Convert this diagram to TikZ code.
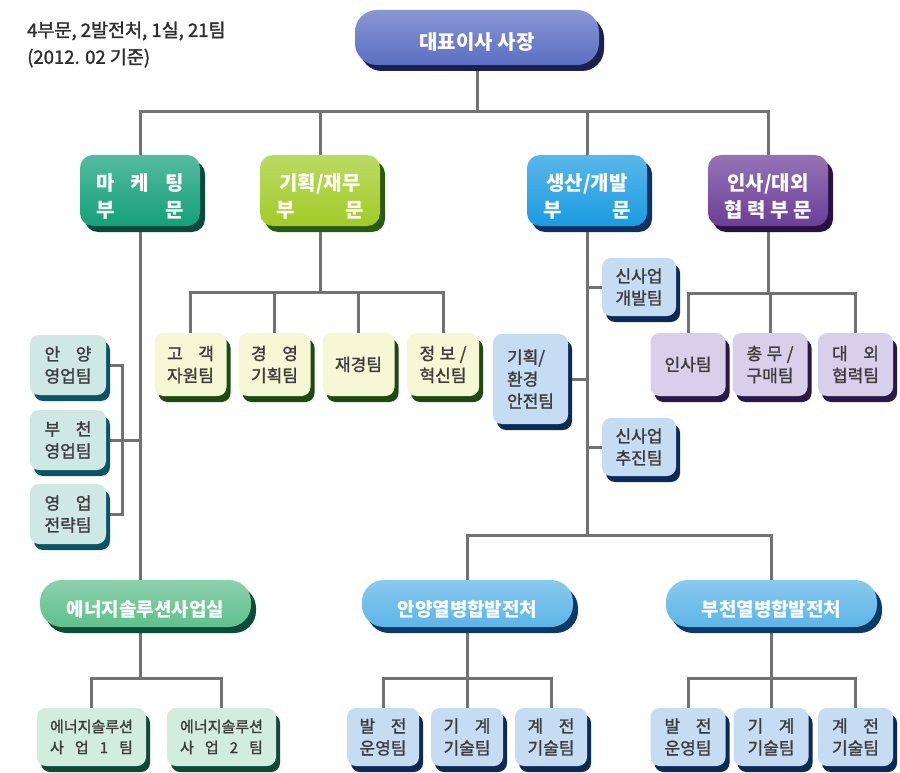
\documentclass[tikz,border=0pt]{standalone}
\usepackage{fontspec}
\setmainfont{Noto Sans CJK KR}
\newfontfamily\boxfont{Noto Sans CJK KR}[FakeBold=1.5]
\newfontfamily\teamfont{Noto Sans CJK KR}[FakeBold=1.5]
\usetikzlibrary{shadows,backgrounds}
\definecolor{ceoC}{HTML}{5B6EC2}\definecolor{ceoS}{HTML}{1A2050}
\definecolor{mkC}{HTML}{14A07A}\definecolor{mkS}{HTML}{0A4A3C}
\definecolor{finC}{HTML}{A2CB28}\definecolor{finS}{HTML}{2B5A0E}
\definecolor{prC}{HTML}{1A9BE0}\definecolor{prS}{HTML}{0A3266}
\definecolor{hrC}{HTML}{6C3E98}\definecolor{hrS}{HTML}{2A1244}
\definecolor{enC}{HTML}{5FC08D}\definecolor{enS}{HTML}{0D4C38}
\definecolor{plC}{HTML}{5CB5E7}\definecolor{plS}{HTML}{0B3A68}
\definecolor{mkT}{HTML}{CFE8E3}\definecolor{mkTS}{HTML}{0C5464}
\definecolor{fiT}{HTML}{F5F7D5}\definecolor{fiTS}{HTML}{1C4A10}
\definecolor{prT}{HTML}{C6DCF2}\definecolor{prTS}{HTML}{0C2A58}
\definecolor{hrT}{HTML}{D8D0EB}\definecolor{hrTS}{HTML}{2A1848}
\definecolor{enT}{HTML}{D2ECDF}\definecolor{enTS}{HTML}{0D4A38}
\definecolor{txtC}{HTML}{3C3C3C}
\definecolor{hdrC}{HTML}{2E2E2E}
\definecolor{lineC}{HTML}{727272}
\newlength\twolen
\newcommand\spreadto[2]{\makebox[#1][s]{#2}}
\newcommand\twoline[2]{\settowidth\twolen{#2}\makebox[\twolen][s]{#1}\\#2}
\newcommand\twolineB[2]{#1\\\settowidth\twolen{#1}\makebox[\twolen][s]{#2}}
\tikzset{
  base/.style={inner sep=0pt, outer sep=0pt, align=center},
  divbox/.style={base, minimum width=120pt, minimum height=71pt, rounded corners=13pt},
  boxtext/.style={base, text=white, font=\bfseries\fontsize{20}{27}\selectfont},
  teambox/.style={base, minimum width=72pt, minimum height=63pt, rounded corners=9pt, text=txtC, font=\teamfont\fontsize{17}{22}\selectfont},
  pill/.style={base, minimum width=211pt, minimum height=47pt, rounded corners=22pt},
  colorbox/.style 2 args={top color=#1!72!white, bottom color=#1, general shadow={shadow xshift=5pt, shadow yshift=-6pt, fill=#2}},
  flatbox/.style 2 args={fill=#1, general shadow={shadow xshift=4pt, shadow yshift=-6pt, fill=#2}},
  link/.style={draw=lineC, line width=3pt},
  hdr/.style={anchor=west, inner sep=0pt, text=hdrC, font=\teamfont\fontsize{18.5}{22}\selectfont}
}
\begin{document}
\begin{tikzpicture}[x=1pt,y=-1pt]
\useasboundingbox (0,0) rectangle (900,773);
\clip (0,0) rectangle (900,773);
% header
\node[hdr] (hd1) at (27,31) {4부문, 2발전처, 1실, 21팀};
\node[hdr] (hd2) at (27,58) {(2012. 02 기준)};
% CEO
\node[base, minimum width=244pt, minimum height=55pt, rounded corners=22pt, colorbox={ceoC}{ceoS}] (ceo) at (477,37.5) {};
\node[boxtext] (ceot) at ([yshift=-5pt]ceo.center) {대표이사 사장};
% divisions
\node[divbox, colorbox={mkC}{mkS}] (mk) at (140,190.5) {};
\node[divbox, colorbox={finC}{finS}] (fin) at (320,190.5) {};
\node[divbox, colorbox={prC}{prS}] (prod) at (587,190.5) {};
\node[divbox, colorbox={hrC}{hrS}] (hr) at (768,190.5) {};
\node[boxtext] (mkt) at ([yshift=-6pt]mk.center) {\spreadto{88pt}{마\hfill 케\hfill 팅}\\\spreadto{88pt}{부\hfill 문}};
\node[boxtext] (fint) at ([yshift=-6pt]fin.center) {기획/재무\\\spreadto{88pt}{부\hfill 문}};
\node[boxtext] (prodt) at ([yshift=-6pt]prod.center) {생산/개발\\\spreadto{88pt}{부\hfill 문}};
\node[boxtext] (hrt) at ([yshift=-6pt]hr.center) {인사/대외\\\spreadto{88pt}{협\hfill 력\hfill 부\hfill 문}};
% marketing side teams
\node[teambox, minimum width=76pt, minimum height=60pt, flatbox={mkT}{mkTS}] (mk1) at (68,365) {\twoline{안\hfill 양}{영업팀}};
\node[teambox, minimum width=76pt, minimum height=60pt, flatbox={mkT}{mkTS}] (mk2) at (68,440) {\twoline{부\hfill 천}{영업팀}};
\node[teambox, minimum width=76pt, minimum height=60pt, flatbox={mkT}{mkTS}] (mk3) at (68,514) {\twoline{영\hfill 업}{전략팀}};
% finance teams
\node[teambox, flatbox={fiT}{fiTS}] (f1) at (190.5,364.5) {\twoline{고\hfill 객}{자원팀}};
\node[teambox, flatbox={fiT}{fiTS}] (f2) at (274.5,364.5) {\twoline{경\hfill 영}{기획팀}};
\node[teambox, flatbox={fiT}{fiTS}] (f3) at (358.5,364.5) {재경팀};
\node[teambox, flatbox={fiT}{fiTS}] (f4) at (443,364.5) {\twoline{정\hfill 보\hfill /}{혁신팀}};
% production side teams
\node[teambox, minimum width=74pt, minimum height=58pt, flatbox={prT}{prTS}] (p1) at (639,287) {신사업\\개발팀};
\node[teambox, minimum width=75pt, minimum height=90pt, align=left, flatbox={prT}{prTS}] (p2) at (530.5,379) {기획/\\환경\\안전팀};
\node[teambox, minimum width=74pt, minimum height=58pt, flatbox={prT}{prTS}] (p3) at (639,447) {신사업\\추진팀};
% HR teams
\node[teambox, minimum width=75pt, flatbox={hrT}{hrTS}] (h1) at (688,364.5) {인사팀};
\node[teambox, minimum width=75pt, flatbox={hrT}{hrTS}] (h2) at (770,364.5) {\twoline{총\hfill 무\hfill /}{구매팀}};
\node[teambox, minimum width=75pt, flatbox={hrT}{hrTS}] (h3) at (855.5,364.5) {\twoline{대\hfill 외}{협력팀}};
% wide boxes
\node[pill, colorbox={enC}{enS}] (en) at (145.5,603.5) {};
\node[pill, colorbox={plC}{plS}] (an) at (467.5,603.5) {};
\node[pill, colorbox={plC}{plS}] (bc) at (771.5,603.5) {};
\node[boxtext, font=\bfseries\fontsize{19}{22}\selectfont] (ent) at ([yshift=-6pt]en.center) {에너지솔루션사업실};
\node[boxtext, font=\bfseries\fontsize{19}{22}\selectfont] (ant) at ([yshift=-6pt]an.center) {안양열병합발전처};
\node[boxtext, font=\bfseries\fontsize{19}{22}\selectfont] (bct) at ([yshift=-6pt]bc.center) {부천열병합발전처};
% energy teams
\node[teambox, minimum width=109pt, minimum height=58pt, font=\teamfont\fontsize{15}{21}\selectfont, flatbox={enT}{enTS}] (e1) at (91.5,737) {\twolineB{에너지솔루션}{사\hfill 업\hfill 1\hfill 팀}};
\node[teambox, minimum width=109pt, minimum height=58pt, font=\teamfont\fontsize{15}{21}\selectfont, flatbox={enT}{enTS}] (e2) at (221.5,737) {\twolineB{에너지솔루션}{사\hfill 업\hfill 2\hfill 팀}};
% anyang teams
\node[teambox, minimum height=58pt, flatbox={prT}{prTS}] (a1) at (383,737) {\twoline{발\hfill 전}{운영팀}};
\node[teambox, minimum height=58pt, flatbox={prT}{prTS}] (a2) at (467,737) {\twoline{기\hfill 계}{기술팀}};
\node[teambox, minimum height=58pt, flatbox={prT}{prTS}] (a3) at (551,737) {\twoline{계\hfill 전}{기술팀}};
% bucheon teams
\node[teambox, minimum width=75pt, minimum height=58pt, flatbox={prT}{prTS}] (b1) at (688,737) {\twoline{발\hfill 전}{운영팀}};
\node[teambox, minimum width=75pt, minimum height=58pt, flatbox={prT}{prTS}] (b2) at (771,737) {\twoline{기\hfill 계}{기술팀}};
\node[teambox, minimum width=75pt, minimum height=58pt, flatbox={prT}{prTS}] (b3) at (855.5,737) {\twoline{계\hfill 전}{기술팀}};
% bus coordinates
\coordinate (tb) at (477,112);
\coordinate (bk) at (122,440);
\coordinate (fb) at (320,292);
\coordinate (hb) at (768,293);
\coordinate (pb) at (587,535);
\coordinate (eb) at (140,678);
\coordinate (ab) at (467.5,678);
\coordinate (bb) at (771.5,678);
\begin{scope}[on background layer]
\fill[white] (0,0) rectangle (900,773);
% top level
\draw[link] (ceo.south) -- (tb);
\draw[link] (mk.north) |- (tb) -| (hr.north);
\draw[link] (fin.north) -- (fin.north |- tb);
\draw[link] (prod.north) -- (prod.north |- tb);
% marketing
\draw[link] (mk.south) -- (mk.south |- en.north);
\draw[link] (mk1.east) -- (mk1.east -| bk) -- (mk3.east -| bk) -- (mk3.east);
\draw[link] (mk2.east) -- (mk2.east -| mk.south);
% finance
\draw[link] (fin.south) -- (fb);
\draw[link] (f1.north) |- (fb) -| (f4.north);
\draw[link] (f2.north) -- (f2.north |- fb);
\draw[link] (f3.north) -- (f3.north |- fb);
% hr
\draw[link] (hr.south) -- (hb);
\draw[link] (h1.north) |- (hb) -| (h3.north);
\draw[link] (h2.north) -- (h2.north |- hb);
% production
\draw[link] (prod.south) -- (pb);
\draw[link] (p1.west) -- (p1.west -| pb);
\draw[link] (p2.east) -- (p2.east -| pb);
\draw[link] (p3.west) -- (p3.west -| pb);
\draw[link] (an.north) |- (pb) -| (bc.north);
% energy
\draw[link] (en.south -| mk.south) -- (eb);
\draw[link] (e1.north) |- (eb) -| (e2.north);
% anyang
\draw[link] (an.south) -- (ab);
\draw[link] (a1.north) |- (ab) -| (a3.north);
\draw[link] (a2.north) -- (a2.north |- ab);
% bucheon
\draw[link] (bc.south) -- (bb);
\draw[link] (b1.north) |- (bb) -| (b3.north);
\draw[link] (b2.north) -- (b2.north |- bb);
\end{scope}
\end{tikzpicture}
\end{document}
